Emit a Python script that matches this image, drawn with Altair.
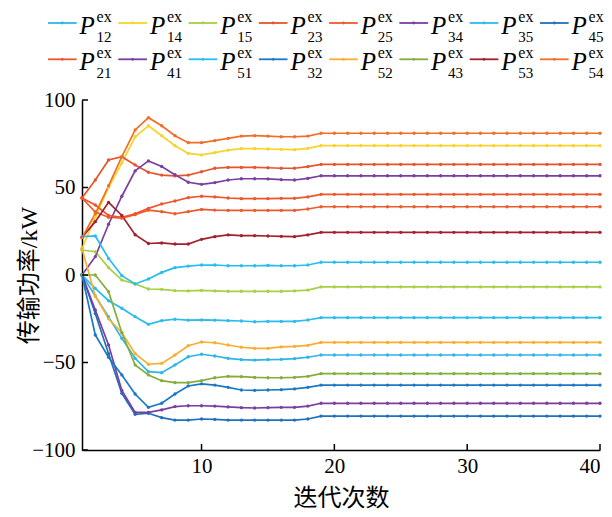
import altair as alt
import pandas as pd

iterations = list(range(1, 41))

series_names = ["P12", "P14", "P15", "P23", "P25", "P34", "P35", "P45",
                "P21", "P41", "P51", "P32", "P52", "P43", "P53", "P54"]
subscripts = ["12", "14", "15", "23", "25", "34", "35", "45",
              "21", "41", "51", "32", "52", "43", "53", "54"]
colors = ["#2DB4E8", "#F8D32A", "#A8CF45", "#E4552B", "#EC5B2C", "#7B3F9E", "#2BBBEE", "#2070BA",
          "#EE5629", "#7A3E9E", "#26BEF0", "#1B78C4", "#F9AE30", "#84AE3C", "#A2202F", "#F26E25"]

p12 = [0, -12, -24, -36.2, -47.6, -55.2, -55.8, -51.4, -46.7, -45.3, -46.3, -47.6, -48.4, -48.6, -48.4, -48.2, -47.8, -47.0,
       -45.7, -45.7, -45.7, -45.7, -45.7, -45.7, -45.7, -45.7, -45.7, -45.7, -45.7, -45.7, -45.7, -45.7, -45.7, -45.7, -45.7, -45.7, -45.7, -45.7, -45.7, -45.7]
p14 = [15, 33, 50, 64, 79, 85.3, 79.6, 73.9, 69.5, 68.6, 69.9, 71.4, 72.2, 72.2, 72.0, 71.8, 71.6, 72.4,
       73.9, 73.9, 73.9, 73.9, 73.9, 73.9, 73.9, 73.9, 73.9, 73.9, 73.9, 73.9, 73.9, 73.9, 73.9, 73.9, 73.9, 73.9, 73.9, 73.9, 73.9, 73.9]
p15 = [14.3, 13.3, 4.2, -2.9, -5.1, -8.0, -8.2, -8.9, -9.1, -8.8, -9.1, -9.3, -9.3, -9.3, -9.3, -9.3, -9.1, -8.6,
       -6.8, -6.8, -6.8, -6.8, -6.8, -6.8, -6.8, -6.8, -6.8, -6.8, -6.8, -6.8, -6.8, -6.8, -6.8, -6.8, -6.8, -6.8, -6.8, -6.8, -6.8, -6.8]
p23 = [44, 54.3, 65.7, 67.6, 62.9, 58.7, 57.1, 56.6, 57.1, 59.0, 61.0, 61.5, 61.5, 61.5, 61.3, 61.0, 61.0, 61.9,
       63.2, 63.2, 63.2, 63.2, 63.2, 63.2, 63.2, 63.2, 63.2, 63.2, 63.2, 63.2, 63.2, 63.2, 63.2, 63.2, 63.2, 63.2, 63.2, 63.2, 63.2, 63.2]
p25 = [44, 36, 33, 32.5, 34.5, 37.1, 36.2, 35.0, 36.2, 37.5, 37.1, 36.9, 36.9, 36.9, 36.9, 36.9, 36.9, 37.7,
       39.0, 39.0, 39.0, 39.0, 39.0, 39.0, 39.0, 39.0, 39.0, 39.0, 39.0, 39.0, 39.0, 39.0, 39.0, 39.0, 39.0, 39.0, 39.0, 39.0, 39.0, 39.0]
p34 = [0, 10.5, 29, 45, 59.5, 65.2, 62.0, 57.3, 53.0, 51.8, 52.8, 54.3, 55.0, 55.0, 54.9, 54.5, 54.3, 55.2,
       56.7, 56.7, 56.7, 56.7, 56.7, 56.7, 56.7, 56.7, 56.7, 56.7, 56.7, 56.7, 56.7, 56.7, 56.7, 56.7, 56.7, 56.7, 56.7, 56.7, 56.7, 56.7]
p35 = [0, -7.6, -14.7, -19, -23.8, -28.2, -26.1, -25.3, -25.8, -25.7, -25.8, -26.1, -26.3, -26.7, -26.5, -26.5, -26.5, -25.7,
       -24.4, -24.4, -24.4, -24.4, -24.4, -24.4, -24.4, -24.4, -24.4, -24.4, -24.4, -24.4, -24.4, -24.4, -24.4, -24.4, -24.4, -24.4, -24.4, -24.4, -24.4, -24.4]
p45 = [0, -22, -45, -67.6, -79.6, -79.0, -81.5, -82.9, -82.9, -82.3, -82.5, -82.9, -82.9, -82.9, -82.9, -82.9, -82.9, -82.3,
       -80.6, -80.6, -80.6, -80.6, -80.6, -80.6, -80.6, -80.6, -80.6, -80.6, -80.6, -80.6, -80.6, -80.6, -80.6, -80.6, -80.6, -80.6, -80.6, -80.6, -80.6, -80.6]
p21 = [44, 40, 34, 33, 35, 38.1, 40.6, 42.3, 44.2, 45.0, 44.6, 44.0, 43.6, 43.6, 43.6, 43.8, 43.8, 44.6,
       46.1, 46.1, 46.1, 46.1, 46.1, 46.1, 46.1, 46.1, 46.1, 46.1, 46.1, 46.1, 46.1, 46.1, 46.1, 46.1, 46.1, 46.1, 46.1, 46.1, 46.1, 46.1]
p41 = [0, -20, -40, -66, -78.5, -78.5, -77.1, -75.2, -74.7, -74.7, -74.9, -75.4, -75.8, -76.0, -75.8, -75.6, -75.6, -74.9,
       -73.3, -73.3, -73.3, -73.3, -73.3, -73.3, -73.3, -73.3, -73.3, -73.3, -73.3, -73.3, -73.3, -73.3, -73.3, -73.3, -73.3, -73.3, -73.3, -73.3, -73.3, -73.3]
p51 = [21.9, 22.3, 9.5, -0.4, -5.1, -2.3, 1.5, 4.2, 5.1, 5.7, 5.7, 5.3, 5.3, 5.3, 5.5, 5.3, 5.3, 5.7,
       7.3, 7.3, 7.3, 7.3, 7.3, 7.3, 7.3, 7.3, 7.3, 7.3, 7.3, 7.3, 7.3, 7.3, 7.3, 7.3, 7.3, 7.3, 7.3, 7.3, 7.3, 7.3]
p32 = [0, -34.3, -47, -57.1, -68, -75.6, -73.3, -68, -63.4, -62.2, -62.9, -64.2, -65.7, -65.9, -65.7, -65.5, -65.1, -64.2,
       -62.9, -62.9, -62.9, -62.9, -62.9, -62.9, -62.9, -62.9, -62.9, -62.9, -62.9, -62.9, -62.9, -62.9, -62.9, -62.9, -62.9, -62.9, -62.9, -62.9, -62.9, -62.9]
p52 = [15, -12, -25, -33, -45, -51, -50.5, -45.7, -40.4, -38.3, -38.7, -40.0, -41.3, -41.9, -41.9, -41.1, -40.8, -40.2,
       -38.5, -38.5, -38.5, -38.5, -38.5, -38.5, -38.5, -38.5, -38.5, -38.5, -38.5, -38.5, -38.5, -38.5, -38.5, -38.5, -38.5, -38.5, -38.5, -38.5, -38.5, -38.5]
p43 = [0, 0, -9.5, -33, -51.4, -57.1, -60.4, -61.5, -61.5, -60.4, -58.7, -57.9, -58.1, -58.5, -58.7, -58.7, -58.5, -57.9,
       -56.4, -56.4, -56.4, -56.4, -56.4, -56.4, -56.4, -56.4, -56.4, -56.4, -56.4, -56.4, -56.4, -56.4, -56.4, -56.4, -56.4, -56.4, -56.4, -56.4, -56.4, -56.4]
p53 = [21.5, 30.5, 41.5, 34, 23, 18.0, 18.3, 17.7, 17.7, 20.4, 21.9, 22.9, 22.5, 22.5, 22.3, 22.1, 21.9, 22.9,
       24.4, 24.4, 24.4, 24.4, 24.4, 24.4, 24.4, 24.4, 24.4, 24.4, 24.4, 24.4, 24.4, 24.4, 24.4, 24.4, 24.4, 24.4, 24.4, 24.4, 24.4, 24.4]
p54 = [21.3, 35, 51, 67.6, 82.9, 89.9, 85.3, 79.6, 75.6, 75.6, 76.8, 78.1, 79.4, 79.6, 79.4, 79.0, 79.0, 79.4,
       81.0, 81.0, 81.0, 81.0, 81.0, 81.0, 81.0, 81.0, 81.0, 81.0, 81.0, 81.0, 81.0, 81.0, 81.0, 81.0, 81.0, 81.0, 81.0, 81.0, 81.0, 81.0]

series_values = [p12, p14, p15, p23, p25, p34, p35, p45, p21, p41, p51, p32, p52, p43, p53, p54]

x_ticks = [10, 20, 30, 40]
y_ticks = [-100, -50, 0, 50, 100]

rows = []
for name, vals in zip(series_names, series_values):
    for k, v in zip(iterations, vals):
        rows.append({"s": name, "k": k, "v": v})
df = pd.DataFrame(rows)

leg_df = pd.DataFrame({
    "s": series_names,
    "sub": subscripts,
    "col": [i % 8 for i in range(16)],
    "row": [i // 8 for i in range(16)],
})

SERIF = "Liberation Serif, Noto Sans CJK SC"
color_scale = alt.Scale(domain=series_names, range=colors)

xs = alt.Scale(domain=[1, 40], nice=False, zero=False)
ys = alt.Scale(domain=[-100, 100], nice=False)

W, H = 518, 350

x_axis = alt.Axis(values=x_ticks, title="迭代次数", labelFlush=True, labelPadding=5, titlePadding=10)
y_axis = alt.Axis(values=y_ticks, title="传输功率/kW", labelPadding=7, titleX=-53, titleBaseline="middle")

lines = alt.Chart(df).mark_line(
    strokeWidth=1.7,
    point=alt.OverlayMarkDef(filled=True, size=11, opacity=1),
).encode(
    x=alt.X("k:Q", scale=xs, axis=x_axis),
    y=alt.Y("v:Q", scale=ys, axis=y_axis),
    color=alt.Color("s:N", scale=color_scale, legend=None),
    order=alt.Order("k:Q"),
)

ytick_df = pd.DataFrame({"k": [1] * len(y_ticks), "v": y_ticks})
xtick_df = pd.DataFrame({"k": x_ticks, "v": [-100] * len(x_ticks)})

yt = alt.Chart(ytick_df).mark_rule(color="black", strokeWidth=1.5).encode(
    y=alt.Y("v:Q", scale=ys, axis=y_axis),
    x=alt.value(0), x2=alt.value(6),
)
xt = alt.Chart(xtick_df).mark_rule(color="black", strokeWidth=1.5).encode(
    x=alt.X("k:Q", scale=xs, axis=x_axis),
    y=alt.value(H), y2=alt.value(H - 6),
)

main = alt.layer(lines, yt, xt).properties(width=W, height=H)

LW, LH = W, 71
lx = alt.Scale(domain=[0.484, 7.854], nice=False, zero=False)
ly = alt.Scale(domain=[-0.358, 1.598], nice=False, zero=False, reverse=True)

legbase = alt.Chart(leg_df).transform_calculate(
    c_end="datum.col + 0.408",
    c_mid="datum.col + 0.204",
    c_txt="datum.col + 0.45",
)
leg_line = legbase.mark_rule(strokeWidth=1.8).encode(
    x=alt.X("col:Q", scale=lx, axis=None), x2="c_end:Q",
    y=alt.Y("row:Q", scale=ly, axis=None),
    color=alt.Color("s:N", scale=color_scale, legend=None),
)
leg_pt = legbase.mark_point(filled=True, size=8, opacity=1).encode(
    x=alt.X("c_mid:Q", scale=lx, axis=None),
    y=alt.Y("row:Q", scale=ly, axis=None),
    color=alt.Color("s:N", scale=color_scale, legend=None),
)
leg_P = legbase.mark_text(text="P", font="Liberation Serif", fontStyle="italic", fontSize=25,
                          align="left", baseline="alphabetic", dy=11, color="black").encode(
    x=alt.X("c_txt:Q", scale=lx, axis=None),
    y=alt.Y("row:Q", scale=ly, axis=None),
)
leg_sub = legbase.mark_text(font="Liberation Serif", fontSize=15, align="left",
                            baseline="alphabetic", dx=17, dy=19, color="black").encode(
    x=alt.X("c_txt:Q", scale=lx, axis=None),
    y=alt.Y("row:Q", scale=ly, axis=None),
    text="sub:N",
)
leg_sup = legbase.mark_text(text="ex", font="Liberation Serif", fontSize=16, align="left",
                            baseline="alphabetic", dx=17, dy=-1, color="black").encode(
    x=alt.X("c_txt:Q", scale=lx, axis=None),
    y=alt.Y("row:Q", scale=ly, axis=None),
)
legend = alt.layer(leg_line, leg_pt, leg_P, leg_sub, leg_sup).properties(width=LW, height=LH)

chart = alt.vconcat(legend, main, spacing=7).properties(
    padding={"left": 9, "top": 0, "right": 0, "bottom": 0}
).configure_view(stroke=None).configure_axis(
    grid=False, ticks=False, domainColor="black", domainWidth=1.5,
    labelFont=SERIF, labelFontSize=21, labelColor="black",
    titleFont=SERIF, titleFontSize=24, titleFontWeight="normal", titleColor="black",
)

chart.save("out.html", embed_options={"renderer": "svg", "actions": False})
